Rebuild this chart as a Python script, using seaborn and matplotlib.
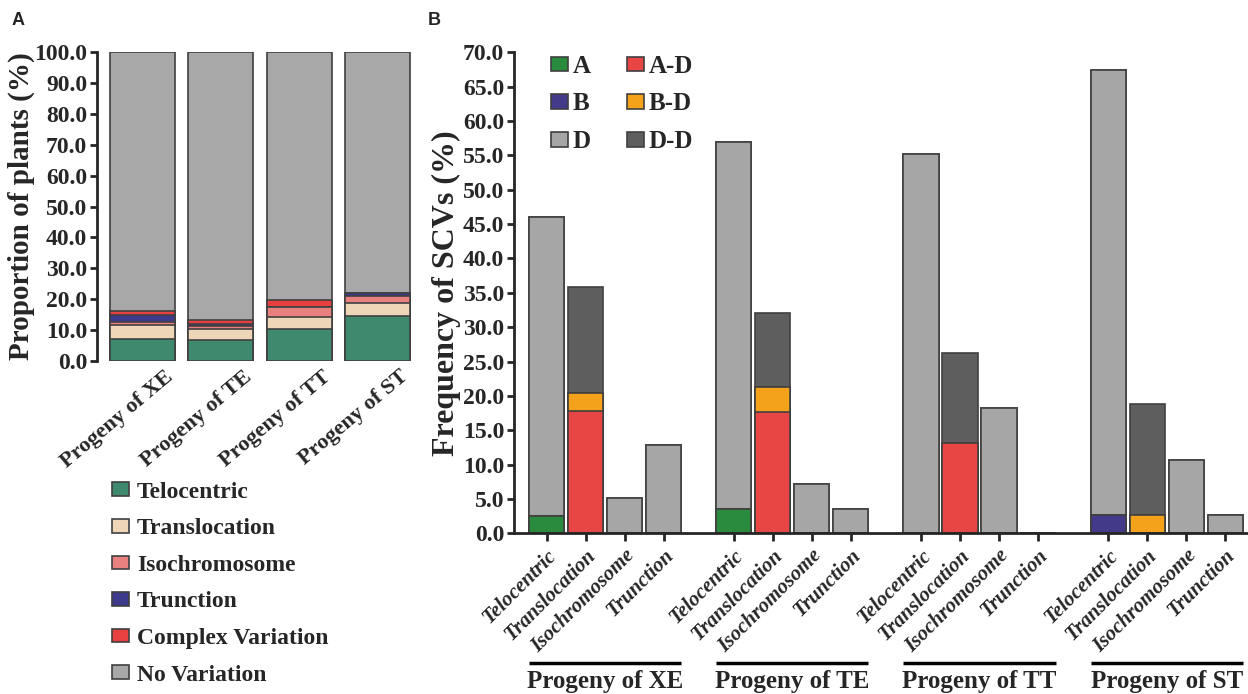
import numpy as np
import pandas as pd
import seaborn as sns
import matplotlib.pyplot as plt
import matplotlib.transforms as mtransforms
from matplotlib.patches import Patch
from matplotlib.ticker import FormatStrFormatter

# ---- panel A: proportion of plants (%) ----
progeny = ['Progeny of XE', 'Progeny of TE', 'Progeny of TT', 'Progeny of ST']
var_types = ['Telocentric', 'Translocation', 'Isochromosome', 'Trunction',
             'Complex Variation', 'No Variation']
telocentric = [7.2, 6.9, 10.5, 14.7]
translocation = [4.6, 3.6, 3.8, 4.2]
isochromosome = [0.7, 0.9, 3.2, 2.3]
trunction = [2.5, 0.7, 0.0, 0.7]
complex_var = [1.1, 1.1, 2.4, 0.0]
no_variation = [83.9, 86.8, 80.1, 78.1]
colors_A = ['#3f8a6f', '#efd6b9', '#e88080', '#3d3a8c', '#e84040', '#a8a8a8']

# ---- panel B: frequency of SCVs (%) ----
scv_types = ['Telocentric', 'Translocation', 'Isochromosome', 'Trunction']
chrom_types = ['A', 'B', 'A-D', 'B-D', 'D', 'D-D']
freq_A = [2.5, 0, 0, 0, 3.5, 0, 0, 0, 0, 0, 0, 0, 0, 0, 0, 0]
freq_B = [0, 0, 0, 0, 0, 0, 0, 0, 0, 0, 0, 0, 2.7, 0, 0, 0]
freq_AD = [0, 17.8, 0, 0, 0, 17.7, 0, 0, 0, 13.1, 0, 0, 0, 0, 0, 0]
freq_BD = [0, 2.6, 0, 0, 0, 3.6, 0, 0, 0, 0, 0, 0, 0, 2.6, 0, 0]
freq_D = [43.6, 0, 5.1, 12.8, 53.5, 0, 7.1, 3.6, 55.2, 0, 18.3, 0, 64.8, 0, 10.7, 2.7]
freq_DD = [0, 15.5, 0, 0, 0, 10.8, 0, 0, 0, 13.2, 0, 0, 0, 16.2, 0, 0]
colors_B = ['#2a8a3e', '#433a8a', '#e84545', '#f4a21c', '#a6a6a6', '#5e5e5e']

sns.set_theme(style='ticks')
plt.rcParams['font.family'] = ['Liberation Serif', 'DejaVu Serif']
plt.rcParams['font.weight'] = 'bold'
plt.rcParams['axes.linewidth'] = 2.0

EDGE = '#404040'
fig = plt.figure(figsize=(12.48, 6.94), dpi=100)


def stacked(ax, df, x, layers, colors, **kw):
    cum = df[layers].cumsum(axis=1)
    for layer, col in reversed(list(zip(layers, colors))):
        d = pd.DataFrame({'x': df[x], 'y': cum[layer]})
        sns.barplot(data=d, x='x', y='y', color=col, saturation=1,
                    edgecolor=EDGE, linewidth=1.2, errorbar=None, ax=ax, **kw)


# ---------------- panel A ----------------
dfA = pd.DataFrame({'group': progeny, 'Telocentric': telocentric,
                    'Translocation': translocation, 'Isochromosome': isochromosome,
                    'Trunction': trunction, 'Complex Variation': complex_var,
                    'No Variation': no_variation})
axA = fig.add_axes([0.0777, 0.4798, 0.2532, 0.4452])
stacked(axA, dfA, 'group', var_types, colors_A, order=progeny, width=0.83)
axA.set_xlim(-0.58, 3.45)
axA.set_ylim(0, 100)
axA.set_yticks(np.arange(0, 101, 10))
axA.yaxis.set_major_formatter(FormatStrFormatter('%.1f'))
sns.despine(ax=axA, bottom=True)
axA.tick_params(axis='y', length=5, width=2, labelsize=17, pad=2)
axA.tick_params(axis='x', length=0, labelsize=16, pad=4)
axA.set_xticks(range(4))
axA.set_xticklabels(progeny, rotation=40, ha='right', va='top', rotation_mode='anchor')
offset = mtransforms.ScaledTranslation(0.22, 0, fig.dpi_scale_trans)
for lab in axA.get_xticklabels():
    lab.set_transform(lab.get_transform() + offset)
    lab.set_fontweight('bold')
for lab in axA.get_yticklabels():
    lab.set_fontweight('bold')
axA.set_xlabel('')
axA.set_ylabel('Proportion of plants (%)', fontsize=21, fontweight='bold')
axA.yaxis.set_label_coords(-0.195, 0.5)

handlesA = [Patch(facecolor=c, edgecolor=EDGE, linewidth=1.2) for c in colors_A]
fig.legend(handlesA, var_types, loc='upper left', bbox_to_anchor=(0.0896, 0.306),
           frameon=False, handlelength=0.74, handleheight=0.52,
           handletextpad=0.32, labelspacing=0.66, borderpad=0, borderaxespad=0,
           prop={'weight': 'bold', 'size': 17})

# ---------------- panel B ----------------
pos = [g * 4.8 + i for g in range(4) for i in range(4)]
dfB = pd.DataFrame({'pos': pos, 'A': freq_A, 'B': freq_B, 'A-D': freq_AD,
                    'B-D': freq_BD, 'D': freq_D, 'D-D': freq_DD})
axB = fig.add_axes([0.4119, 0.2316, 0.5873, 0.693])
stacked(axB, dfB, 'pos', chrom_types, colors_B, native_scale=True, width=0.9)
axB.set_xlim(-0.833, 17.96)
axB.set_ylim(0, 70)
axB.set_yticks(np.arange(0, 70.1, 5))
axB.yaxis.set_major_formatter(FormatStrFormatter('%.1f'))
sns.despine(ax=axB)
axB.tick_params(axis='y', length=5, width=2, labelsize=17, pad=2)
axB.tick_params(axis='x', length=6, width=2, labelsize=15, pad=3)
axB.set_xticks(pos)
axB.set_xticklabels(scv_types * 4, rotation=45, ha='right', va='top',
                    rotation_mode='anchor', fontstyle='italic', fontweight='bold')
for lab in axB.get_yticklabels():
    lab.set_fontweight('bold')
axB.set_xlabel('')
axB.set_ylabel('Frequency of SCVs (%)', fontsize=23, fontweight='bold')
axB.yaxis.set_label_coords(-0.072, 0.5)

trans = mtransforms.blended_transform_factory(axB.transData, axB.transAxes)
for g, name in enumerate(progeny):
    x0 = g * 4.8 - 0.45
    x1 = g * 4.8 + 3.45
    axB.plot([x0, x1], [-0.27, -0.27], color='black', lw=2.5, transform=trans,
             clip_on=False, solid_capstyle='butt')
    axB.text((x0 + x1) / 2, -0.309, name, transform=trans, ha='center', va='center',
             fontsize=18, fontweight='bold')

# legend fills column by column: A, B, D | A-D, B-D, D-D
leg_order = [0, 1, 4, 2, 3, 5]
handlesB = [Patch(facecolor=colors_B[i], edgecolor=EDGE, linewidth=1.2) for i in leg_order]
labelsB = [chrom_types[i] for i in leg_order]
axB.legend(handlesB, labelsB, ncol=2, loc='upper left', bbox_to_anchor=(0.05, 0.995),
           frameon=False, handlelength=0.7, handleheight=0.52, handletextpad=0.18,
           labelspacing=0.59, columnspacing=1.44, borderpad=0, borderaxespad=0,
           prop={'weight': 'bold', 'size': 18})

fig.text(0.0096, 0.971, 'A', fontsize=13, fontweight='bold', family='Liberation Sans',
         va='center')
fig.text(0.343, 0.971, 'B', fontsize=13, fontweight='bold', family='Liberation Sans',
         va='center')

fig.savefig('out.png', dpi=100)
